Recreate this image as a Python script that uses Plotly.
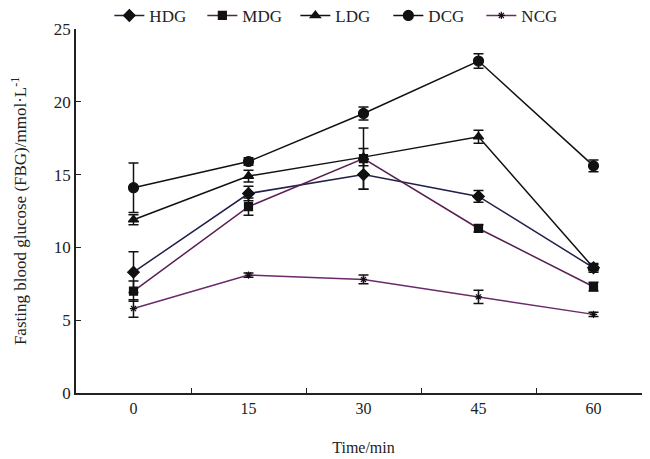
import plotly.graph_objects as go

times = ["0", "15", "30", "45", "60"]

hdg = [8.3, 13.7, 15.0, 13.5, 8.6]
hdg_err = [1.4, 0.5, 1.0, 0.4, 0.2]
mdg = [7.0, 12.8, 16.1, 11.3, 7.3]
mdg_err = [0.7, 0.6, 2.1, 0.25, 0.3]
ldg = [11.9, 14.9, 16.2, 17.6, 8.6]
ldg_err = [0.35, 0.4, 0.6, 0.45, 0.3]
dcg = [14.1, 15.9, 19.2, 22.8, 15.6]
dcg_err = [1.7, 0.25, 0.45, 0.5, 0.4]
ncg = [5.8, 8.1, 7.8, 6.6, 5.4]
ncg_err = [0.6, 0.15, 0.3, 0.45, 0.15]

series = [
    ("HDG", hdg, hdg_err, "#20204a", "diamond", 9),
    ("MDG", mdg, mdg_err, "#5a1f52", "square", 8),
    ("LDG", ldg, ldg_err, "#111111", "triangle-up", 9),
    ("DCG", dcg, dcg_err, "#111111", "circle", 10),
    ("NCG", ncg, ncg_err, "#6a2a6a", "asterisk-open", 6),
]

fig = go.Figure()
for name, vals, err, col, sym, size in series:
    fig.add_trace(go.Scatter(
        x=times, y=vals, name=name, mode="lines+markers",
        line=dict(color=col, width=1.5),
        marker=dict(symbol=sym, size=size, color="#111111",
                    line=dict(color="#111111", width=1.2)),
        error_y=dict(type="data", array=err, visible=True,
                     color="#111111", thickness=1.5, width=5),
    ))

font = "Liberation Serif, Times New Roman, serif"
fig.update_layout(
    width=650, height=459,
    margin=dict(l=68, r=7, t=21, b=74, autoexpand=False),
    paper_bgcolor="white", plot_bgcolor="white",
    font=dict(family=font, size=15, color="#222222"),
    showlegend=True,
    legend=dict(orientation="h", x=0.058, y=1.036, xanchor="left", yanchor="middle",
                font=dict(size=17, family=font), entrywidth=48,
                bgcolor="rgba(0,0,0,0)", itemwidth=30, tracegroupgap=0,
                borderwidth=0),
    xaxis=dict(type="category", range=[-0.5, 4.5], showline=True,
               linecolor="#222222", linewidth=1.5, ticks="inside",
               tickson="boundaries", ticklen=5, tickcolor="#222222",
               showgrid=False, zeroline=False, automargin=False,
               title=dict(text="Time/min", font=dict(size=16), standoff=26),
               tickfont=dict(size=16)),
    yaxis=dict(range=[0, 25], tickvals=[0, 5, 10, 15, 20, 25], showline=True,
               linecolor="#222222", linewidth=1.5, ticks="inside", ticklen=5,
               tickcolor="#222222", showgrid=False, zeroline=False, automargin=False,
               title=dict(text="Fasting blood glucose (FBG)/mmol·L<sup>-1</sup>",
                          font=dict(size=17), standoff=24),
               tickfont=dict(size=17)),
)

fig.write_html("out.html")
